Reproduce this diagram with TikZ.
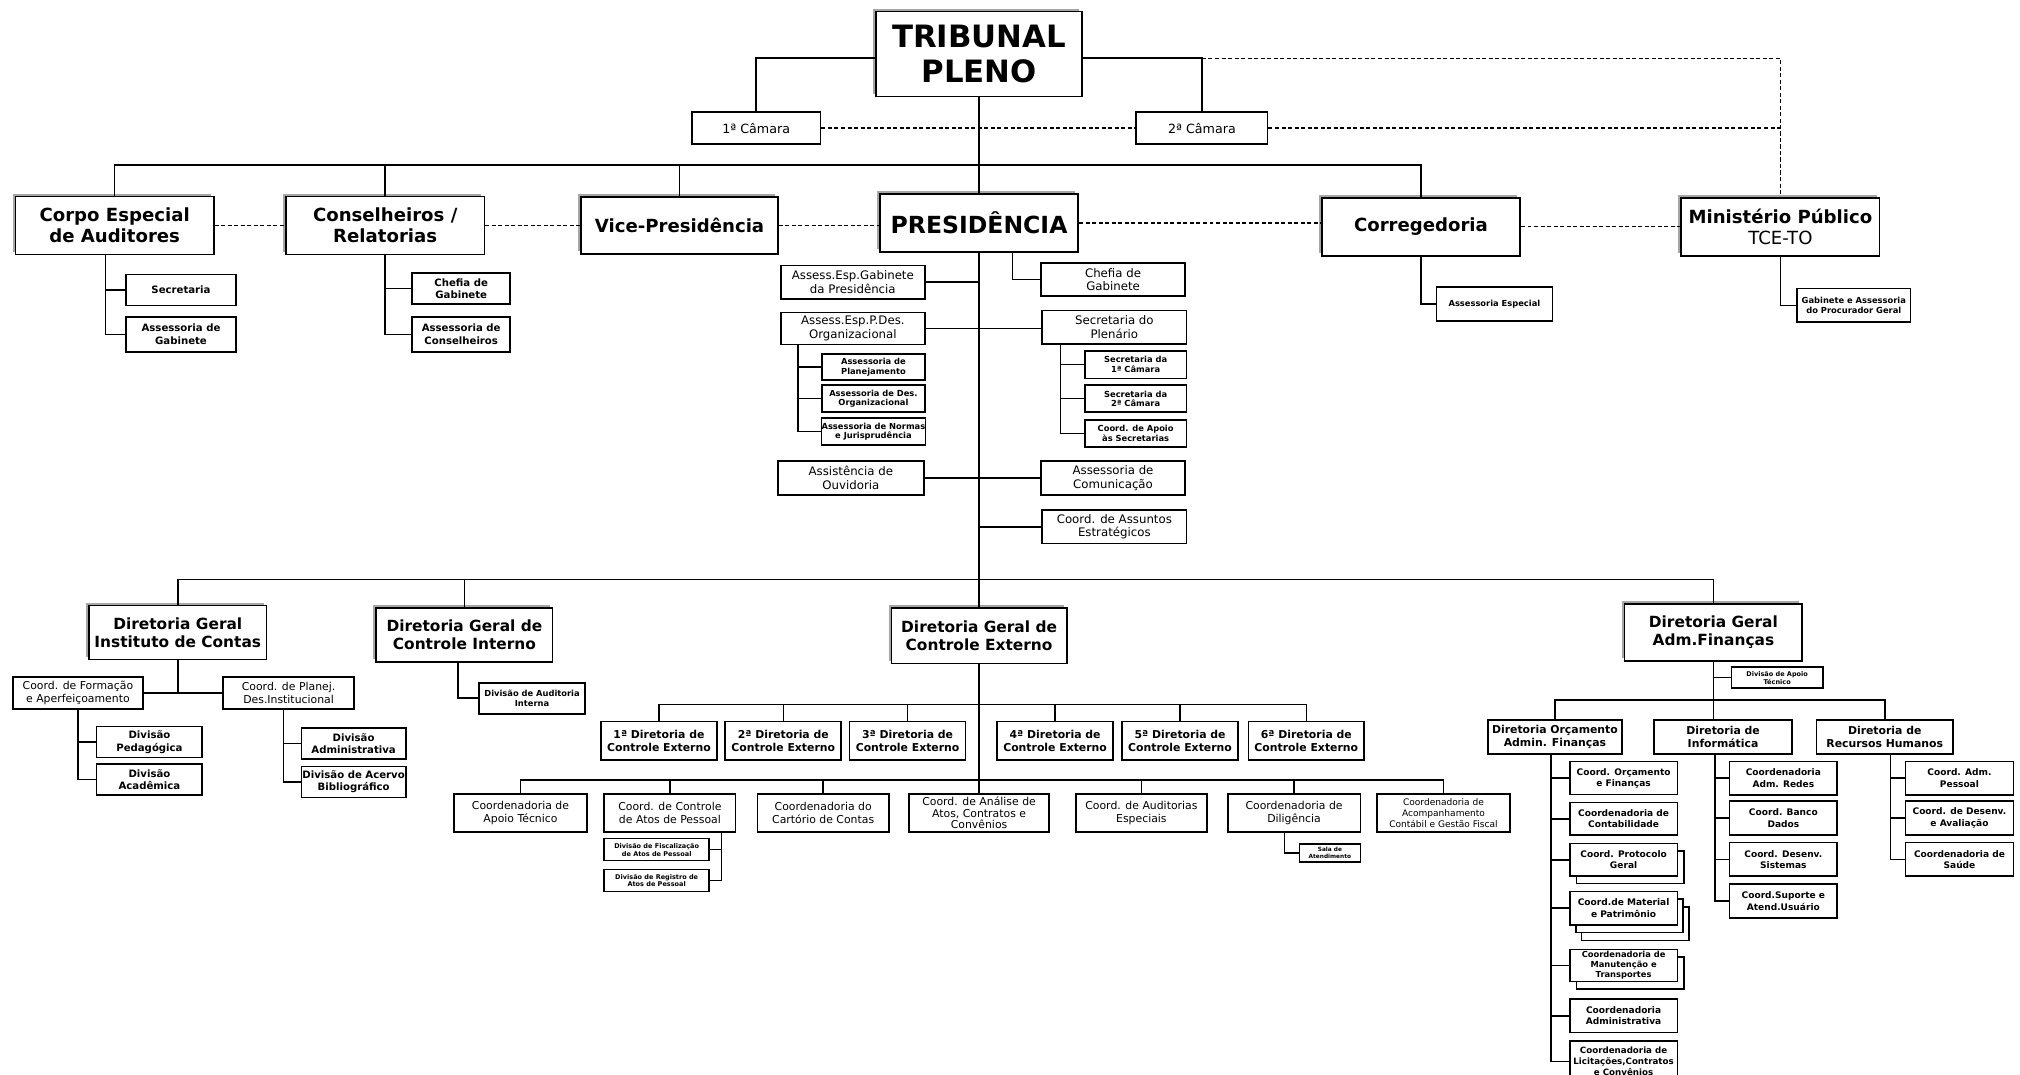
\documentclass[tikz,border=0pt]{standalone}
\usepackage{fontspec}
\setmainfont{DejaVu Sans}
\usetikzlibrary{shadows}

\begin{document}
\begin{tikzpicture}[x=0.25mm, y=-0.25mm,
    box/.style={draw, line width=0.9pt, fill=white, inner sep=0pt, align=center},
    wh/.style 2 args={minimum width=#1*0.25mm, minimum height=#2*0.25mm},
    shd/.style={drop shadow={shadow xshift=-1.6pt, shadow yshift=1.6pt, fill=black!35, opacity=1}},
    stk/.style={copy shadow={shadow xshift=3.7pt, shadow yshift=-4.2pt, draw=black, fill=white, line width=0.9pt}},
    stkk/.style={copy shadow={shadow xshift=6.4pt, shadow yshift=-8.5pt, draw=black, fill=white, line width=0.9pt},
                 copy shadow={shadow xshift=3.2pt, shadow yshift=-4.2pt, draw=black, fill=white, line width=0.9pt}},
    ln/.style={line width=0.85pt},
    dsh/.style={line width=0.8pt, dash pattern=on 2.2pt off 1.4pt},
    ftrib/.style={font=\fontsize{17}{19}\selectfont\bfseries},
    fpres/.style={font=\fontsize{13}{15}\selectfont\bfseries},
    fhead/.style={font=\fontsize{10}{11.5}\selectfont\bfseries},
    fdg/.style={font=\fontsize{8.5}{10}\selectfont\bfseries},
    fdir/.style={font=\fontsize{6}{7}\selectfont\bfseries},
    fmid/.style={font=\fontsize{6.5}{7.5}\selectfont},
    fcoord/.style={font=\fontsize{6}{7}\selectfont},
    fcam/.style={font=\fontsize{7}{8}\selectfont},
    fsm/.style={font=\fontsize{5.6}{6.8}\selectfont\bfseries},
    fcol/.style={font=\fontsize{5}{6.2}\selectfont\bfseries},
    ftiny/.style={font=\fontsize{4.6}{5.3}\selectfont\bfseries},
    fmini/.style={font=\fontsize{3.6}{4.3}\selectfont\bfseries}]

    \useasboundingbox (0,0) rectangle (1568,834);

    % topo
    \node[box, shd, wh={160}{66}, ftrib] (trib) at (760,42) {TRIBUNAL\\PLENO};
    \node[box, wh={100}{25}, fcam] (cam1) at (587,99.5) {1ª Câmara};
    \node[box, wh={102}{25}, fcam] (cam2) at (933,99.5) {2ª Câmara};

    \node[box, shd, wh={154}{45}, fhead] (corpo) at (89,175) {Corpo Especial\\de Auditores};
    \node[box, shd, wh={154}{45}, fhead] (cons) at (299,175) {Conselheiros /\\Relatorias};
    \node[box, shd, wh={153}{44}, fhead] (vice) at (527.5,175) {Vice-Presidência};
    \node[box, shd, wh={154}{45}, fpres] (pres) at (760,173) {PRESIDÊNCIA};
    \node[box, shd, wh={154}{45}, fhead] (correg) at (1103,176) {Corregedoria};
    \node[box, shd, wh={154}{45}, fhead] (mp) at (1382,176) {Ministério Público\\\mdseries TCE-TO};

    \coordinate (busT) at (760,128);
    \coordinate (tribW) at ([yshift=-0.8mm]trib.west);
    \coordinate (tribE) at ([yshift=-0.8mm]trib.east);
    \draw[ln] (tribW) -| (cam1.north);
    \draw[ln] (tribE) -| (cam2.north);
    \draw[dsh] (cam2.north |- tribE) -| (mp.north);
    \draw[dsh] (cam1.east) -- (cam2.west);
    \draw[dsh] (cam2.east) -| (mp.north);
    \draw[ln] (trib.south) -- (pres.north);
    \draw[ln] (corpo.north) |- (busT) -| (correg.north);
    \foreach \n in {cons,vice} \draw[ln] (\n.north) -- (\n.north |- busT);
    \draw[dsh] (corpo.east) -- (cons.west);
    \draw[dsh] (cons.east) -- (vice.west);
    \draw[dsh] (vice.east) -- (vice.east -| pres.west);
    \draw[dsh] (pres.east) -- (pres.east -| correg.west);
    \draw[dsh] (correg.east) -- (mp.west);

    % auditores e conselheiros
    \node[box, wh={85}{24}, fsm] (csec) at (140.5,225) {Secretaria};
    \node[box, wh={85}{27}, fsm] (cgab) at (140.5,259.5) {Assessoria de\\Gabinete};
    \foreach \n in {csec,cgab} \draw[ln] ([xshift=-1.8mm]corpo.south) |- (\n.west);

    \node[box, wh={76}{24}, fsm] (rchef) at (358,224) {Chefia de\\Gabinete};
    \node[box, wh={76}{27}, fsm] (rass) at (358,259.5) {Assessoria de\\Conselheiros};
    \foreach \n in {rchef,rass} \draw[ln] (cons.south) |- (\n.west);

    % presidencia
    \node[box, wh={112}{26}, fmid] (aeg) at (662,219) {Assess.Esp.Gabinete\\da Presidência};
    \node[box, wh={112}{26}, fmid] (chefp) at (864,217) {Chefia de\\Gabinete};
    \node[box, wh={112}{25}, fmid] (aepd) at (662,255) {Assess.Esp.P.Des.\\Organizacional};
    \node[box, wh={112}{26}, fmid] (splen) at (865,254) {Secretaria do\\Plenário};
    \draw[ln] (aeg.east) -- (aeg.east -| pres.south);
    \draw[ln] ([xshift=6.5mm]pres.south) |- (chefp.west);
    \draw[ln] (aepd.east) -- (aepd.east -| splen.west);

    \node[box, wh={80}{20}, ftiny] (aplan) at (678,285) {Assessoria de\\Planejamento};
    \node[box, wh={80}{21}, ftiny] (ades) at (678,309.5) {Assessoria de Des.\\Organizacional};
    \node[box, wh={80}{21}, ftiny] (anorm) at (678,335) {Assessoria de Normas\\e Jurisprudência};
    \foreach \n in {aplan,ades,anorm} \draw[ln] ([xshift=3.5mm]aepd.south west) |- (\n.west);

    \node[box, wh={79}{21.5}, ftiny] (sc1) at (881.5,283) {Secretaria da\\1ª Câmara};
    \node[box, wh={79}{21}, ftiny] (sc2) at (881.5,309.5) {Secretaria da\\2ª Câmara};
    \node[box, wh={79}{21}, ftiny] (scap) at (881.5,336.5) {Coord. de Apoio\\às Secretarias};
    \foreach \n in {sc1,sc2,scap} \draw[ln] ([xshift=3.75mm]splen.south west) |- (\n.west);

    \node[box, wh={113}{26}, fmid] (ouv) at (660.5,371) {Assistência de\\Ouvidoria};
    \node[box, wh={112}{26}, fmid] (comu) at (864,371) {Assessoria de\\Comunicação};
    \node[box, wh={112}{26}, fmid] (cae) at (865,409) {Coord. de Assuntos\\Estratégicos};
    \draw[ln] (ouv.east) -- (comu.west);
    \draw[ln] (cae.west) -- (cae.west -| pres.south);

    % corregedoria e ministerio publico
    \node[box, wh={90}{26}, ftiny] (aesp) at (1160,236) {Assessoria Especial};
    \draw[ln] (correg.south) |- (aesp.west);
    \node[box, wh={88}{26}, ftiny] (gproc) at (1439,237) {Gabinete e Assessoria\\do Procurador Geral};
    \draw[ln] (mp.south) |- (gproc.west);

    % diretorias gerais
    \coordinate (busB) at (760,450);
    \node[box, shd, wh={138}{42}, fdg] (dgic) at (138,491) {Diretoria Geral\\Instituto de Contas};
    \node[box, shd, wh={137}{42}, fdg] (dgci) at (360.5,493) {Diretoria Geral de\\Controle Interno};
    \node[box, shd, wh={136}{43}, fdg] (dgce) at (760,493.5) {Diretoria Geral de\\Controle Externo};
    \node[box, shd, wh={138}{44}, fdg] (dgaf) at (1330,491) {Diretoria Geral\\Adm.Finanças};
    \draw[ln] (dgic.north) |- (busB) -| (dgaf.north);
    \draw[ln] (dgci.north) -- (dgci.north |- busB);
    \draw[ln] (pres.south) -- (dgce.north);

    % instituto de contas
    \node[box, wh={101}{25}, fcoord] (cform) at (60.5,538) {Coord. de Formação\\e Aperfeiçoamento};
    \node[box, wh={102}{25}, fcoord] (cplan) at (224,538) {Coord. de Planej.\\Des.Institucional};
    \draw[ln] (cform.east) -- (cplan.west);
    \draw[ln] (dgic.south) -- (dgic.south |- cform.east);
    \node[box, wh={82}{24}, fsm] (dped) at (116,576) {Divisão\\Pedagógica};
    \node[box, wh={82}{24}, fsm] (dacad) at (116,605) {Divisão\\Acadêmica};
    \foreach \n in {dped,dacad} \draw[ln] (cform.south) |- (\n.west);
    \node[box, wh={81}{24}, fsm] (dadm) at (274.5,577) {Divisão\\Administrativa};
    \node[box, wh={81}{24}, fsm] (dacer) at (274.5,607) {Divisão de Acervo\\Bibliográfico};
    \foreach \n in {dadm,dacer} \draw[ln] ([xshift=-1mm]cplan.south) |- (\n.west);

    % controle interno
    \node[box, wh={82}{24}, ftiny] (daud) at (413,542) {Divisão de Auditoria\\Interna};
    \draw[ln] ([xshift=-1.2mm]dgci.south) |- (daud.west);

    % controle externo
    \coordinate (busC) at (760,547);
    \node[box, wh={90}{30}, fdir] (d1) at (511.5,575) {1ª Diretoria de\\Controle Externo};
    \node[box, wh={90}{30}, fdir] (d2) at (608,575) {2ª Diretoria de\\Controle Externo};
    \node[box, wh={90}{30}, fdir] (d3) at (704.5,575) {3ª Diretoria de\\Controle Externo};
    \node[box, wh={90}{30}, fdir] (d4) at (819,575) {4ª Diretoria de\\Controle Externo};
    \node[box, wh={90}{30}, fdir] (d5) at (916,575) {5ª Diretoria de\\Controle Externo};
    \node[box, wh={90}{30}, fdir] (d6) at (1014,575) {6ª Diretoria de\\Controle Externo};
    \draw[ln] (d1.north) |- (busC) -| (d6.north);
    \foreach \n in {d2,d3,d4,d5} \draw[ln] (\n.north) -- (\n.north |- busC);

    \coordinate (busD) at (760,605.5);
    \node[box, wh={103}{29.5}, fcoord] (capt) at (404,631) {Coordenadoria de\\Apoio Técnico};
    \node[box, wh={102}{29.5}, fcoord] (catos) at (520,631) {Coord. de Controle\\de Atos de Pessoal};
    \node[box, wh={102}{29.5}, fcoord] (ccart) at (639,631) {Coordenadoria do\\Cartório de Contas};
    \node[box, wh={109}{29.5}, font=\fontsize{6}{6.5}\selectfont] (canal) at (760,631) {Coord. de Análise de\\Atos, Contratos e\\Convênios};
    \node[box, wh={102}{29.5}, fcoord] (caesp) at (886,631) {Coord. de Auditorias\\Especiais};
    \node[box, wh={103}{29.5}, fcoord] (cdil) at (1004.5,631) {Coordenadoria de\\Diligência};
    \node[box, wh={103}{29.5}, font=\fontsize{5}{6}\selectfont] (cacomp) at (1120.5,631) {Coordenadoria de\\Acompanhamento\\Contábil e Gestão Fiscal};
    \draw[ln] (capt.north) |- (busD) -| (cacomp.north);
    \foreach \n in {catos,ccart,caesp,cdil} \draw[ln] (\n.north) -- (\n.north |- busD);
    \draw[ln] (dgce.south) -- (canal.north);

    \node[box, wh={81.5}{17}, fmini] (dfisc) at (509.75,659.5) {Divisão de Fiscalização\\de Atos de Pessoal};
    \node[box, wh={81.5}{17}, fmini] (dreg) at (509.75,683.5) {Divisão de Registro de\\Atos de Pessoal};
    \foreach \n in {dfisc,dreg} \draw[ln] ([xshift=-2.9mm]catos.south east) |- (\n.east);

    \node[box, wh={47.4}{14}, font=\fontsize{3.2}{3.9}\selectfont\bfseries] (sala) at (1032.3,662) {Sala de\\Atendimento};
    \draw[ln] ([xshift=-1.9mm]cdil.south) |- (sala.west);

    % administracao e financas
    \node[box, wh={71}{16.5}, fmini] (dapoio) at (1379.5,526) {Divisão de Apoio\\Técnico};
    \draw[ln] (dgaf.south) |- (dapoio.west);

    \coordinate (busE) at (1330,543.5);
    \node[box, wh={104}{26.5}, fdir] (dorc) at (1207,572) {Diretoria Orçamento\\Admin. Finanças};
    \node[box, wh={107}{26.5}, fdir] (dinf) at (1337.5,572) {Diretoria de\\Informática};
    \node[box, wh={106}{26.5}, fdir] (drh) at (1463,572) {Diretoria de\\Recursos Humanos};
    \draw[ln] (dorc.north) |- (busE) -| (drh.north);
    \draw[ln] (dgaf.south) -- (dgaf.south |- dinf.north);

    \node[box, wh={83.4}{25.6}, fcol] (co1) at (1260.3,604) {Coord. Orçamento\\e Finanças};
    \node[box, wh={83.4}{25.3}, fcol] (co2) at (1260.3,635.6) {Coordenadoria de\\Contabilidade};
    \node[box, stk, wh={83.4}{25.2}, fcol] (co3) at (1260.3,667.4) {Coord. Protocolo\\Geral};
    \node[box, stkk, wh={83.4}{26}, fcol] (co4) at (1260.3,705) {Coord.de Material\\e Patrimônio};
    \node[box, stk, wh={83.4}{25}, font=\fontsize{4.6}{5.5}\selectfont\bfseries] (co5) at (1260.3,749.5) {Coordenadoria de\\Manutenção e\\Transportes};
    \node[box, wh={83.4}{26}, fcol] (co6) at (1260.3,788.5) {Coordenadoria\\Administrativa};
    \node[box, wh={83.4}{32}, font=\fontsize{4.8}{6}\selectfont\bfseries] (co7) at (1260.3,824) {Coordenadoria de\\Licitações,Contratos\\e Convênios};
    \foreach \n in {co1,co2,co3,co4,co5,co6,co7} \draw[ln] ([xshift=-0.75mm]dorc.south) |- (\n.west);

    \node[box, wh={83.5}{26}, fcol] (ci1) at (1384.3,604) {Coordenadoria\\Adm. Redes};
    \node[box, wh={83.5}{26}, fcol] (ci2) at (1384.3,635) {Coord. Banco\\Dados};
    \node[box, wh={83.5}{26}, fcol] (ci3) at (1384.3,667) {Coord. Desenv.\\Sistemas};
    \node[box, wh={83.5}{26.7}, fcol] (ci4) at (1384.3,699.4) {Coord.Suporte e\\Atend.Usuário};
    \foreach \n in {ci1,ci2,ci3,ci4} \draw[ln] ([xshift=-1.6mm]dinf.south) |- (\n.west);

    \node[box, wh={84}{26}, fcol] (cr1) at (1521,604) {Coord. Adm.\\Pessoal};
    \node[box, wh={84}{26}, fcol] (cr2) at (1521,635) {Coord. de Desenv.\\e Avaliação};
    \node[box, wh={84}{26}, fcol] (cr3) at (1521,667) {Coordenadoria de\\Saúde};
    \foreach \n in {cr1,cr2,cr3} \draw[ln] ([xshift=1.15mm]drh.south) |- (\n.west);
\end{tikzpicture}
\end{document}
